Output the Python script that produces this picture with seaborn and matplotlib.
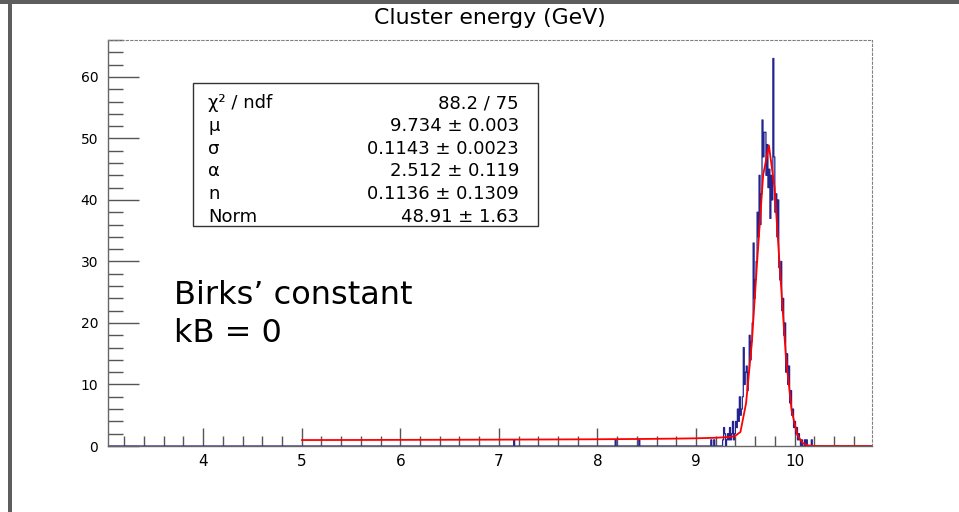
import numpy as np
import pandas as pd
import matplotlib
matplotlib.use("Agg")
import matplotlib.pyplot as plt
import seaborn as sns
from matplotlib.patches import Rectangle
from matplotlib.ticker import MultipleLocator

sns.set_theme(style="white")
plt.rcParams["font.family"] = ["DejaVu Sans"]
plt.rcParams["text.color"] = "black"
plt.rcParams["xtick.color"] = "black"
plt.rcParams["ytick.color"] = "black"

# ---------------- data ----------------
title = "Cluster energy (GeV)"

# histogram: counts per 0.01 GeV bin, first bin starts at 9.15 GeV
peak_start = 9.15
bin_width = 0.01
peak_counts = [
    1, 0, 0, 1, 0, 0, 0, 0, 0, 0,      # 9.15 - 9.24
    0, 0, 1, 3, 2, 0, 1, 2, 1, 3,      # 9.25 - 9.34
    1, 2, 4, 1, 2, 4, 3, 6, 4, 8,      # 9.35 - 9.44
    5, 6, 8, 16, 10, 12, 13, 9, 12, 18,  # 9.45 - 9.54
    14, 17, 20, 33, 24, 27, 30, 38, 34, 44,  # 9.55 - 9.64
    36, 41, 53, 47, 51, 51, 44, 49, 42, 45,  # 9.65 - 9.74
    37, 44, 40, 63, 47, 38, 41, 34, 40, 29,  # 9.75 - 9.84
    27, 30, 22, 24, 18, 20, 12, 15, 10, 13,  # 9.85 - 9.94
    7, 9, 5, 6, 3, 4, 2, 3, 1, 2,      # 9.95 - 10.04
    1, 0, 1, 0, 0, 1, 0, 1, 0, 0,      # 10.05 - 10.14
    0, 0, 1, 0, 0,                     # 10.15 - 10.19
]
isolated_x = [7.155, 8.185, 8.425]
isolated_counts = [1, 1, 1]

# fitted curve (sampled points)
fit_x = [5.0, 5.578, 6.0, 6.5, 7.0, 7.5, 8.0, 8.5, 8.8, 9.0, 9.2, 9.335,
         9.393, 9.451, 9.508, 9.566, 9.624, 9.682, 9.740, 9.797, 9.855,
         9.913, 9.971, 10.029, 10.086, 10.144, 10.202, 10.26, 10.5, 10.78]
fit_y = [0.967, 0.98, 0.995, 1.013, 1.034, 1.06, 1.097, 1.151, 1.20, 1.253,
         1.339, 1.46, 1.58, 2.28, 6.93, 16.61, 30.79, 44.10, 48.85, 42.02,
         27.92, 14.35, 5.69, 1.75, 0.43, 0.08, 0.011, 0.001, 0.0, 0.0]

x_ticks = [4, 5, 6, 7, 8, 9, 10]
y_ticks = [0, 10, 20, 30, 40, 50, 60]

stat_names = ["χ² / ndf", "μ", "σ", "α", "n", "Norm"]
stat_values = ["88.2 / 75", "9.734 ± 0.003", "0.1143 ± 0.0023",
               "2.512 ± 0.119", "0.1136 ± 0.1309", "48.91 ± 1.63"]
note_lines = ["Birks’ constant", "kB = 0"]

# ---------------- figure ----------------
W, H = 959, 512
fig = plt.figure(figsize=(W / 100, H / 100), dpi=100)
fig.patch.set_facecolor("white")

# slide decorations
fig.add_artist(Rectangle((0, 1 - 4 / H), 1, 4 / H, transform=fig.transFigure,
                         color="#5e5e5e", lw=0))
fig.add_artist(Rectangle((8 / W, 0), 4 / W, 1 - 4 / H, transform=fig.transFigure,
                         color="#5e5e5e", lw=0))

ax = fig.add_axes([108 / W, 1 - 446 / H, (872 - 108) / W, (446 - 40) / H])

n = len(peak_counts)
centers = [peak_start + bin_width * (i + 0.5) for i in range(n)] + isolated_x
counts = list(peak_counts) + isolated_counts
df = pd.DataFrame({"x": centers, "count": counts})
edges = [round(3.03 + 0.01 * i, 3) for i in range(777)]

sns.histplot(data=df, x="x", weights="count", bins=edges, element="step",
             fill=False, color="#24248f", linewidth=0.9, ax=ax)
sns.lineplot(x=fit_x, y=fit_y, color="#ff0000", linewidth=1.3, ax=ax,
             estimator=None, sort=False)

ax.set_xlim(3.034, 10.786)
ax.set_ylim(0, 66.0)
ax.set_xlabel("")
ax.set_ylabel("")
ax.set_xticks(x_ticks)
ax.set_yticks(y_ticks)
ax.xaxis.set_minor_locator(MultipleLocator(0.2))
ax.yaxis.set_minor_locator(MultipleLocator(2))

ax.tick_params(axis="x", which="major", direction="in", length=13, width=1,
               color="#555555", labelcolor="black", labelsize=11, pad=6,
               bottom=True, top=False)
ax.tick_params(axis="x", which="minor", direction="in", length=7, width=1,
               color="#555555", bottom=True, top=False)
ax.tick_params(axis="y", which="major", direction="in", length=22, width=1,
               color="#555555", labelcolor="black", labelsize=10, pad=7,
               left=True, right=False)
ax.tick_params(axis="y", which="minor", direction="in", length=11, width=1,
               color="#555555", left=True, right=False)

for side in ["left", "bottom"]:
    ax.spines[side].set_color("#666666")
    ax.spines[side].set_linewidth(1.0)
for side in ["top", "right"]:
    ax.spines[side].set_color("#808080")
    ax.spines[side].set_linewidth(0.8)
    ax.spines[side].set_linestyle((0, (2, 2)))

# title
fig.text(490 / W, 1 - 18 / H, title, ha="center", va="center", fontsize=15.8,
         color="black")

# stats box
fig.add_artist(Rectangle((193 / W, 1 - 226 / H), (538 - 193) / W, (226 - 83) / H,
                         transform=fig.transFigure, fill=False,
                         ec="#333333", lw=1.0))
baselines = [108, 130.8, 153.6, 176.4, 199.2, 222]
for name, val, yb in zip(stat_names, stat_values, baselines):
    fig.text(208 / W, 1 - yb / H, name, ha="left", va="baseline", fontsize=13,
             color="black")
    fig.text(519 / W, 1 - yb / H, val, ha="right", va="baseline", fontsize=13,
             color="black")

# annotation
fig.text(174 / W, 1 - 296 / H, note_lines[0], ha="left", va="center",
         fontsize=23, color="black")
fig.text(174 / W, 1 - 333 / H, note_lines[1], ha="left", va="center",
         fontsize=23, color="black")

fig.savefig("out.png", dpi=100)
